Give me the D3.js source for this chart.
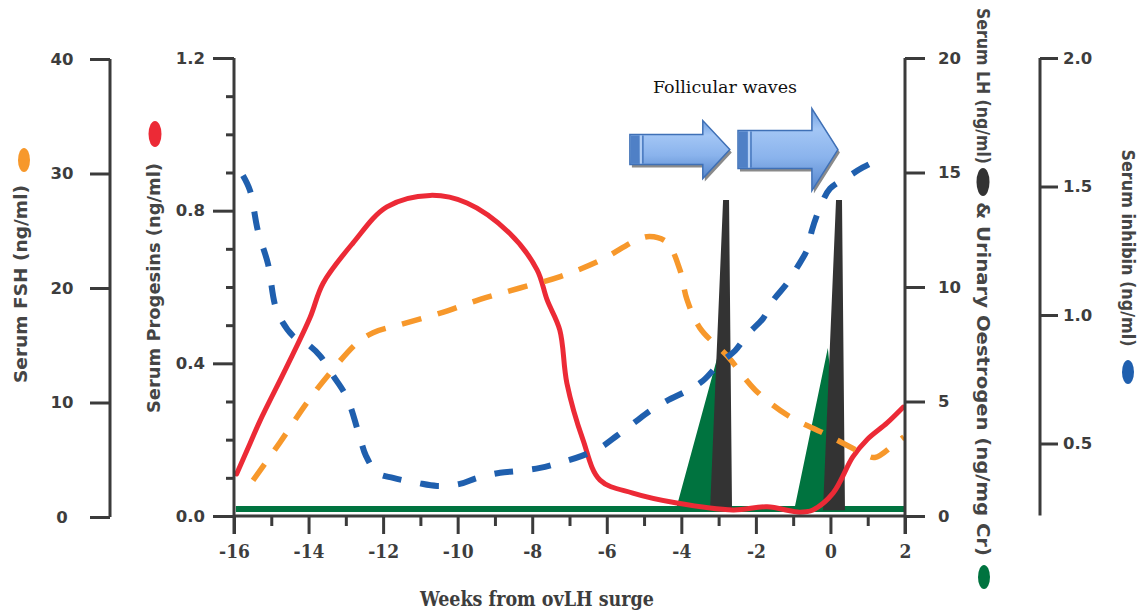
<!DOCTYPE html>
<html><head><meta charset="utf-8">
<script src="https://cdn.jsdelivr.net/npm/d3@7"></script>
<style>body{margin:0;background:#fff}svg{display:block}</style>
</head><body><svg id="c" width="1146" height="611"></svg>
<script>
// ---------- data ----------
const xMajorTicks = [-16,-14,-12,-10,-8,-6,-4,-2,0,2];
const xMinorTicks = [-15,-13,-11,-9,-7,-5,-3,-1,1];
const fshTicks = [0,10,20,30,40];
const progTicks = [0.0,0.4,0.8,1.2];
const progMinorTicks = [0.1,0.2,0.3,0.5,0.6,0.7,0.9,1.0,1.1];
const lhTicks = [0,5,10,15,20];
const inhibinTicks = [0.5,1.0,1.5,2.0];

// Serum progesins (ng/ml) – red
const progWeeks  = [-15.93,-15.57,-15.30,-14.59,-13.96,-13.61,-12.81,-11.90,-10.74,-9.75,-8.60,-7.87,-7.60,-7.26,-7.07,-6.64,-6.18,-5.30,-4.12,-2.61,-1.70,-0.82,-0.47,0.07,0.60,0.98,1.52,1.95];
const progValues = [0.11,0.19,0.25,0.39,0.52,0.61,0.715,0.81,0.84,0.82,0.74,0.645,0.566,0.487,0.348,0.20,0.094,0.06,0.034,0.016,0.024,0.01,0.016,0.06,0.155,0.20,0.244,0.285];

// Serum FSH (ng/ml) – orange dashed
const fshWeeks  = [-15.49,-14.77,-14.04,-13.42,-12.70,-12.27,-11.55,-10.47,-9.40,-8.33,-7.25,-6.18,-5.19,-4.85,-4.39,-4.04,-3.85,-3.50,-2.75,-2.02,-1.11,-0.17,0.85,1.19,1.73,1.97];
const fshValues = [3.2,6.5,10.0,12.6,15.2,16.1,16.8,17.8,19.0,20.0,21.0,22.4,24.2,24.5,24.0,21.6,19.0,16.5,14.0,11.1,8.8,7.3,5.6,5.2,6.4,7.0];

// Serum inhibin (ng/ml) – blue dashed
const inhibinWeeks  = [-15.76,-15.57,-15.36,-15.09,-14.85,-14.42,-14.04,-13.69,-13.34,-12.97,-12.62,-12.46,-12.16,-11.73,-11.09,-10.55,-9.94,-9.48,-8.86,-8.41,-7.79,-7.26,-6.67,-6.18,-5.73,-5.30,-4.84,-4.39,-3.85,-3.42,-2.96,-2.56,-2.21,-1.81,-1.54,-1.17,-0.90,-0.60,-0.50,-0.28,-0.01,0.44,0.87,1.41];
const inhibinValues = [1.543,1.484,1.328,1.20,1.017,0.919,0.888,0.841,0.764,0.678,0.522,0.452,0.386,0.366,0.347,0.335,0.343,0.366,0.386,0.393,0.405,0.425,0.452,0.483,0.53,0.577,0.627,0.666,0.705,0.744,0.814,0.861,0.927,0.986,1.056,1.122,1.184,1.262,1.328,1.418,1.492,1.535,1.574,1.613];

// Serum LH (ng/ml) – black spikes
const lhWeeks  = [-3.23,-2.88,-2.72,-2.64,-0.20,0.15,0.31,0.39];
const lhValues = [0.25,13.8,13.8,0.25,0.25,13.8,13.8,0.25];

// Urinary oestrogen (ng/mg Cr) – green
const oestWeeks  = [-15.95,-4.12,-2.98,-2.72,-0.95,-0.07,0.35,1.98];
const oestValues = [0.44,0.44,7.25,0.44,0.44,7.34,0.44,0.44];

// Follicular waves annotation (weeks)
const waveStarts = [-5.38,-2.48];
const waveTips   = [-2.70,0.20];

// ---------- layout / style ----------
const W = 1146, H = 611;
const AX = "#3b3b3b";
const svg = d3.select("#c");
svg.append("rect").attr("width",W).attr("height",H).attr("fill","#fff");

const x = d3.scaleLinear([-16,2],[234,905]);
const yFsh = d3.scaleLinear([0,40],[517,59]);
const yProg = d3.scaleLinear([0,1.2],[516,58]);
const yLh = d3.scaleLinear([0,20],[516,58]);
const yInh = d3.scaleLinear([0,2],[572,58]);

const fshAxisX = 110, inhAxisX = 1040;
const sansBold = "'DejaVu Sans', Verdana, sans-serif";
const serifBold = "'DejaVu Serif Condensed', 'DejaVu Serif', serif";

function styleAxis(g, fontSize, family) {
  g.select(".domain").remove();
  g.selectAll(".tick line").attr("stroke", AX).attr("stroke-width", 3);
  g.selectAll(".tick text").attr("fill", "#3d3d3d")
    .attr("font-family", family).attr("font-weight", "bold")
    .attr("font-size", fontSize);
}

// ---------- marks ----------
const oest = d3.zip(oestWeeks, oestValues);
svg.append("path")
  .attr("d", d3.area().x(d=>x(d[0])).y0(yLh(0.17)).y1(d=>yLh(d[1]))(oest))
  .attr("fill", "#00733f");

const lh = d3.zip(lhWeeks, lhValues);
svg.append("path")
  .attr("d", d3.area().x(d=>x(d[0])).y0(yLh(0.25)).y1(d=>yLh(d[1]))(lh))
  .attr("fill", "#333333");

const prog = d3.zip(progWeeks, progValues);
svg.append("path")
  .attr("d", d3.line().x(d=>x(d[0])).y(d=>yProg(d[1])).curve(d3.curveCatmullRom.alpha(0.5))(prog))
  .attr("fill","none").attr("stroke","#ec2a36").attr("stroke-width",5).attr("stroke-linecap","round");

const fsh = d3.zip(fshWeeks, fshValues);
svg.append("path")
  .attr("d", d3.line().x(d=>x(d[0])).y(d=>yFsh(d[1])).curve(d3.curveCatmullRom.alpha(0.5))(fsh))
  .attr("fill","none").attr("stroke","#f7982b").attr("stroke-width",5.5)
  .attr("stroke-dasharray","20,17");

const inh = d3.zip(inhibinWeeks, inhibinValues);
svg.append("path")
  .attr("d", d3.line().x(d=>x(d[0])).y(d=>yInh(d[1])).curve(d3.curveCatmullRom.alpha(0.5))(inh))
  .attr("fill","none").attr("stroke","#1f5fae").attr("stroke-width",6)
  .attr("stroke-dasharray","19,19");

// ---------- axes ----------
// x axis
svg.append("line").attr("x1", x(-16)).attr("x2", x(2)).attr("y1", yProg(0)).attr("y2", yProg(0))
  .attr("stroke", AX).attr("stroke-width", 3);
svg.append("g").attr("transform", `translate(0,${yProg(0)})`)
  .call(d3.axisBottom(x).tickValues(xMinorTicks).tickSize(10).tickFormat(""))
  .call(g => styleAxis(g, 18, serifBold));
svg.append("g").attr("transform", `translate(0,${yProg(0)})`)
  .call(d3.axisBottom(x).tickValues(xMajorTicks).tickSize(18).tickPadding(11).tickFormat(d3.format("d")))
  .call(g => styleAxis(g, 19, serifBold))
  .call(g => g.selectAll(".tick text").text(d => d < 0 ? "-" + Math.abs(d) : d));

// progesins axis
svg.append("line").attr("x1", x(-16)).attr("x2", x(-16)).attr("y1", yProg(1.2)).attr("y2", yProg(0)+18)
  .attr("stroke", AX).attr("stroke-width", 3);
svg.append("g").attr("transform", `translate(${x(-16)},0)`)
  .call(d3.axisLeft(yProg).tickValues(progMinorTicks).tickSize(8).tickFormat(""))
  .call(g => styleAxis(g, 16, sansBold));
svg.append("g").attr("transform", `translate(${x(-16)},0)`)
  .call(d3.axisLeft(yProg).tickValues(progTicks).tickSize(21).tickPadding(8).tickFormat(d3.format(".1f")))
  .call(g => styleAxis(g, 16.5, sansBold));

// FSH axis
svg.append("line").attr("x1", fshAxisX).attr("x2", fshAxisX).attr("y1", yFsh(40)).attr("y2", yFsh(0))
  .attr("stroke", AX).attr("stroke-width", 3);
svg.append("g").attr("transform", `translate(${fshAxisX},0)`)
  .call(d3.axisLeft(yFsh).tickValues(fshTicks).tickSize(20).tickPadding(14))
  .call(g => styleAxis(g, 16.5, sansBold))
  .call(g => g.selectAll(".tick text").attr("text-anchor","middle").attr("x", 62 - fshAxisX));

// LH axis
svg.append("line").attr("x1", x(2)).attr("x2", x(2)).attr("y1", yLh(20)).attr("y2", yLh(0)+18)
  .attr("stroke", AX).attr("stroke-width", 3);
svg.append("g").attr("transform", `translate(${x(2)},0)`)
  .call(d3.axisRight(yLh).tickValues(lhTicks).tickSize(20).tickPadding(13))
  .call(g => styleAxis(g, 16.5, sansBold));

// inhibin axis
svg.append("line").attr("x1", inhAxisX).attr("x2", inhAxisX).attr("y1", yInh(2)).attr("y2", yInh(0.22))
  .attr("stroke", AX).attr("stroke-width", 3);
svg.append("g").attr("transform", `translate(${inhAxisX},0)`)
  .call(d3.axisRight(yInh).tickValues(inhibinTicks).tickSize(18).tickPadding(5).tickFormat(d3.format(".1f")))
  .call(g => styleAxis(g, 16.5, sansBold));

// ---------- titles ----------
function vTitle(cx, cy, rot, txt, len) {
  svg.append("text")
    .attr("transform", `translate(${cx},${cy}) rotate(${rot})`)
    .attr("text-anchor","middle").attr("dominant-baseline","central")
    .attr("font-family", sansBold).attr("font-weight","bold").attr("font-size", 17)
    .attr("fill", "#454545")
    .attr("textLength", len).attr("lengthAdjust","spacingAndGlyphs")
    .text(txt);
}
function dot(cx, cy, rx, ry, col) {
  svg.append("ellipse").attr("cx",cx).attr("cy",cy).attr("rx",rx).attr("ry",ry).attr("fill",col);
}
vTitle(21, 284, -90, "Serum FSH (ng/ml)", 198);
dot(24, 160, 6, 12, "#f7982b");
vTitle(154, 288, -90, "Serum Progesins (ng/ml)", 250);
dot(155, 134, 6.5, 13, "#ec2a36");
vTitle(983, 86, 90, "Serum LH (ng/ml)", 156);
dot(983, 182, 6.5, 14, "#333333");
vTitle(983, 379, 90, "& Urinary Oestrogen (ng/mg Cr)", 354);
dot(984, 577, 6, 12, "#00733f");
vTitle(1128, 248, 90, "Serum inhibin (ng/ml)", 197);
dot(1128, 372, 6, 12, "#1f5fae");

svg.append("text").attr("x", 537).attr("y", 606).attr("text-anchor","middle")
  .attr("font-family", serifBold).attr("font-weight","bold").attr("font-size", 19.5)
  .attr("fill","#3d3d3d").text("Weeks from ovLH surge");

// ---------- follicular waves annotation ----------
const defs = svg.append("defs");
const grad = defs.append("linearGradient").attr("id","arrowGrad").attr("x1",0).attr("y1",0).attr("x2",0).attr("y2",1);
[[0,"#6f9fe0"],[0.25,"#a3c6f5"],[0.6,"#8ab3ec"],[1,"#5485cc"]].forEach(([o,c]) =>
  grad.append("stop").attr("offset",o).attr("stop-color",c));

const arrowSizes = [{body:15, head:29, headLen:27}, {body:19, head:41, headLen:26}];
const arrowY = yLh(16);
svg.append("text").attr("x", 725).attr("y", 93).attr("text-anchor","middle")
  .attr("font-family","'DejaVu Serif', serif").attr("font-size",17.5).attr("fill","#111")
  .text("Follicular waves");

waveStarts.forEach((ws, i) => {
  const s = arrowSizes[i];
  const x0 = x(ws), xt = x(waveTips[i]), xh = xt - s.headLen, yc = arrowY;
  const pts = [[x0,yc-s.body],[xh,yc-s.body],[xh,yc-s.head],[xt,yc],[xh,yc+s.head],[xh,yc+s.body],[x0,yc+s.body]];
  const path = "M" + pts.map(p => p.join(",")).join("L") + "Z";
  svg.append("path").attr("d", path).attr("transform","translate(2,3)").attr("fill","#8a8a8a");
  svg.append("path").attr("d", path).attr("fill","url(#arrowGrad)").attr("stroke","#3f70b6").attr("stroke-width",1.5);
  svg.append("rect").attr("x", x0+0.8).attr("y", yc-s.body+0.8).attr("width", 9).attr("height", 2*s.body-1.6).attr("fill","#4f80c6");
  svg.append("line").attr("x1", x0+11).attr("x2", x0+11).attr("y1", yc-s.body+1).attr("y2", yc+s.body-1).attr("stroke","#b3cff5").attr("stroke-width",2);
  svg.append("line").attr("x1", x0+13).attr("x2", x0+13).attr("y1", yc-s.body+1).attr("y2", yc+s.body-1).attr("stroke","#4677bd").attr("stroke-width",1.5);
});
</script></body></html>
